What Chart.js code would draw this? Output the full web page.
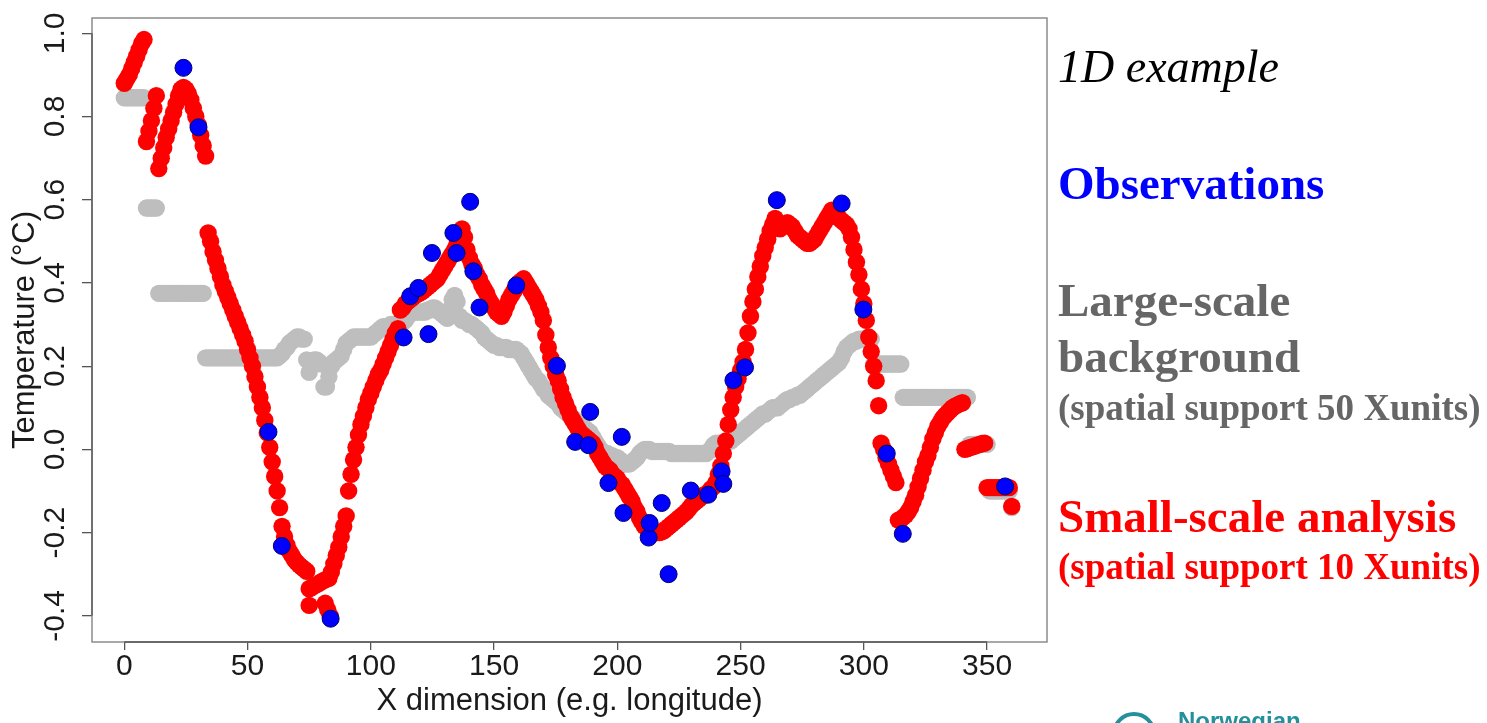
<!DOCTYPE html>
<html>
<head>
<meta charset="utf-8">
<title>1D example</title>
<script src="https://cdn.jsdelivr.net/npm/chart.js@4.4.0/dist/chart.umd.min.js"></script>
<style>
  html, body { margin: 0; padding: 0; background: #fff; overflow: hidden; }
  #wrap { position: absolute; left: 0; top: 0; width: 1487px; height: 723px; }
  .note {
    position: absolute; left: 1058px; line-height: 1; white-space: nowrap;
    font-family: "Liberation Serif", "Times New Roman", serif; font-weight: bold;
  }
  .logo-ring {
    position: absolute; left: 1112px; top: 712px; width: 36px; height: 36px;
    border: 4px solid #23909e; border-radius: 50%;
  }
  .logo-text {
    position: absolute; left: 1178px; top: 709px; line-height: 1; color: #23909e;
    font-family: "Liberation Sans", Arial, sans-serif; font-weight: bold; font-size: 24px;
  }
</style>
</head>
<body>
<div id="wrap"><canvas id="chart"></canvas></div>

<div class="note" style="top:44px;font-size:46px;font-style:italic;font-weight:normal;color:#000;">1D example</div>
<div class="note" style="top:160px;font-size:47px;color:#0000ff;">Observations</div>
<div class="note" style="top:277px;font-size:47px;color:#666666;">Large-scale</div>
<div class="note" style="top:333px;font-size:47px;color:#666666;">background</div>
<div class="note" style="top:389px;font-size:37px;color:#666666;">(spatial support 50 Xunits)</div>
<div class="note" style="top:493px;font-size:47px;color:#ff0000;">Small-scale analysis</div>
<div class="note" style="top:548px;font-size:37px;color:#ff0000;">(spatial support 10 Xunits)</div>

<div class="logo-ring"></div>
<div class="logo-text">Norwegian</div>

<script>
// axis ticks
const xTicks = [0, 50, 100, 150, 200, 250, 300, 350];
const yTicks = [-0.4, -0.2, 0.0, 0.2, 0.4, 0.6, 0.8, 1.0];

// observations (blue)
const obsX = [24, 30.1, 58.5, 63.9, 83.7, 113.3, 116, 119.3, 123.4, 124.8, 133.5, 134.8, 140.3, 141.6,
  144.1, 159, 175.5, 182.9, 188.3, 189, 196.4, 201.8, 202.5, 212.7, 213.1, 218, 220.8, 229.8, 236.9,
  242.3, 243, 247.1, 251.8, 264.7, 291, 299.8, 309.3, 315.8, 357.3];
const obsY = [0.917, 0.774, 0.042, -0.232, -0.407, 0.269, 0.368, 0.388, 0.277, 0.472, 0.52, 0.472, 0.595, 0.428,
  0.341, 0.394, 0.201, 0.018, 0.010, 0.09, -0.081, 0.03, -0.153, -0.212, -0.177, -0.129, -0.30, -0.099, -0.109,
  -0.053, -0.083, 0.166, 0.197, 0.599, 0.591, 0.336, -0.01, -0.203, -0.089];

// small-scale analysis (red), one value per x = 0..360
const analysisY = [
  0.88, 0.89, 0.90, 0.915, 0.93, 0.945, 0.96, 0.975, 0.985,                       // 0-8
  0.74, 0.765, 0.79, 0.82, 0.85,                                                  // 9-13
  0.675, 0.70, 0.725, 0.75, 0.77, 0.79, 0.81, 0.83, 0.85, 0.865,
  0.87, 0.865, 0.855, 0.84, 0.82, 0.80, 0.78, 0.755, 0.73, 0.705,                 // 14-33
  0.52, 0.50, 0.475, 0.455, 0.435, 0.415, 0.395, 0.38, 0.365, 0.35,
  0.335, 0.32, 0.305, 0.29, 0.275, 0.26, 0.24, 0.22, 0.20, 0.175,
  0.15, 0.125, 0.10, 0.07, 0.04, 0.005, -0.03, -0.065, -0.10, -0.14,              // 34-63
  -0.185, -0.21, -0.23, -0.245, -0.255, -0.265, -0.272, -0.278, -0.283, -0.288, -0.293, // 64-74
  -0.335, -0.332, -0.328, -0.325, -0.322, -0.318, -0.315, -0.312, -0.31,          // 75-83
  -0.295, -0.275, -0.255, -0.235, -0.21, -0.185, -0.16,                           // 84-90
  -0.10, -0.06, -0.025, 0.005, 0.035, 0.06, 0.08, 0.10, 0.12, 0.135,
  0.15, 0.165, 0.18, 0.19, 0.205, 0.22, 0.235, 0.25, 0.265, 0.28, 0.29,           // 91-111
  0.335, 0.34, 0.35, 0.355, 0.36, 0.365, 0.37, 0.373, 0.376, 0.38,
  0.385, 0.39, 0.395, 0.40, 0.405, 0.41, 0.42, 0.43, 0.44, 0.45,
  0.46, 0.47, 0.48, 0.495, 0.52, 0.53, 0.51,                                      // 112-138
  0.48, 0.46, 0.445, 0.435, 0.42, 0.41, 0.395, 0.385, 0.375, 0.36,
  0.35, 0.34, 0.33, 0.325, 0.32, 0.33, 0.345, 0.36, 0.37, 0.38,
  0.39, 0.40, 0.405, 0.41, 0.40, 0.39, 0.38, 0.37, 0.36, 0.345, 0.33,             // 139-169
  0.31, 0.275, 0.245, 0.22, 0.20, 0.18, 0.165, 0.145, 0.125, 0.11,
  0.095, 0.08, 0.07, 0.06, 0.05, 0.04, 0.035, 0.03, 0.025, 0.02,
  0.015, 0.005, -0.01, -0.02, -0.03, -0.04, -0.045, -0.05, -0.06, -0.065,         // 170-199
  -0.07, -0.08, -0.085, -0.095, -0.105, -0.115, -0.125, -0.14, -0.15, -0.165,
  -0.175, -0.185, -0.19, -0.195, -0.198, -0.2, -0.2, -0.2, -0.198, -0.195,
  -0.19, -0.185, -0.18, -0.175, -0.17, -0.165, -0.16, -0.155, -0.15, -0.143,      // 200-229
  -0.135, -0.13, -0.125, -0.12, -0.115, -0.11, -0.107, -0.103,                    // 230-237
  -0.095, -0.09, -0.08, -0.06, -0.04, -0.01, 0.02, 0.06, 0.095, 0.125,
  0.15, 0.17, 0.19, 0.21, 0.24, 0.28, 0.32, 0.355, 0.385, 0.415,
  0.44, 0.465, 0.485, 0.505, 0.525,                                               // 238-262
  0.54, 0.555, 0.545, 0.53, 0.535, 0.54, 0.545, 0.54, 0.535, 0.525,
  0.515, 0.51, 0.505, 0.50, 0.495, 0.495, 0.50, 0.505, 0.515, 0.525,
  0.535, 0.545, 0.555, 0.565, 0.575, 0.57, 0.56, 0.555, 0.55, 0.545,
  0.54, 0.53, 0.51, 0.48, 0.45, 0.42, 0.385, 0.35, 0.31, 0.27,
  0.235, 0.20, 0.165, 0.105,                                                      // 263-306
  0.015, 0.0, -0.02, -0.035, -0.05, -0.065, -0.08,                                // 307-313
  -0.17, -0.168, -0.163, -0.158, -0.15, -0.14, -0.125, -0.11, -0.09, -0.07,
  -0.05, -0.03, -0.015, 0.005, 0.025, 0.04, 0.055, 0.065, 0.075, 0.082,
  0.088, 0.094, 0.1, 0.104, 0.107, 0.11, 0.112,                                   // 314-340
  0.0, 0.002, 0.004, 0.006, 0.008, 0.01, 0.012, 0.014, 0.015,                     // 341-349
  -0.092, -0.092, -0.092, -0.092, -0.092, -0.092, -0.092, -0.092, -0.092, -0.092, // 350-359
  -0.137                                                                          // 360
];
// a few analysis points that sit below the main track near the minimum
const analysisExtraX = [75, 81.5, 82.5, 83.5];
const analysisExtraY = [-0.375, -0.37, -0.385, -0.40];

// large-scale background (grey), one value per x = 0..360
const backgroundY = [
  0.845, 0.845, 0.845, 0.845, 0.845, 0.845, 0.845, 0.845, 0.845,                  // 0-8
  0.58, 0.58, 0.58, 0.58, 0.58,                                                   // 9-13
  0.375, 0.375, 0.375, 0.375, 0.375, 0.375, 0.375, 0.375, 0.375, 0.375,
  0.375, 0.375, 0.375, 0.375, 0.375, 0.375, 0.375, 0.375, 0.375,                  // 14-32
  0.22, 0.22, 0.22, 0.22, 0.22, 0.22, 0.22, 0.22, 0.22, 0.22,
  0.22, 0.22, 0.22, 0.22, 0.22, 0.22, 0.22, 0.22, 0.22, 0.22,
  0.22, 0.22, 0.22, 0.22, 0.22, 0.22, 0.22, 0.22, 0.22, 0.22,                     // 33-62
  0.225, 0.23, 0.24, 0.245, 0.255, 0.26, 0.265, 0.27, 0.27, 0.265, 0.265,         // 63-73
  0.215, 0.185, 0.205, 0.215, 0.215, 0.21, 0.205, 0.15, 0.15, 0.175,
  0.2, 0.21, 0.215, 0.22, 0.225,                                                  // 74-88
  0.24, 0.255, 0.26, 0.265, 0.27, 0.27, 0.27, 0.27, 0.27, 0.27,
  0.27, 0.27, 0.275, 0.28, 0.285,                                                 // 89-103
  0.29, 0.295, 0.295, 0.295, 0.3, 0.3, 0.3, 0.3, 0.3, 0.305, 0.31,                // 104-114
  0.32, 0.325, 0.33, 0.33, 0.33, 0.33, 0.33, 0.33, 0.335, 0.335,
  0.34, 0.34, 0.335, 0.33, 0.325, 0.32, 0.315,                                    // 115-131
  0.335, 0.36, 0.37, 0.355, 0.32,                                                 // 132-136
  0.31, 0.31, 0.305, 0.3, 0.3, 0.295, 0.29, 0.285, 0.28, 0.27,
  0.265, 0.26, 0.255,                                                             // 137-149
  0.25, 0.25, 0.245, 0.245, 0.245, 0.245, 0.24, 0.24, 0.24, 0.24,
  0.235, 0.23, 0.22, 0.21,                                                        // 150-163
  0.2, 0.19, 0.18, 0.17, 0.165, 0.155, 0.145, 0.14, 0.13, 0.125,
  0.12, 0.115, 0.11, 0.1, 0.095, 0.09, 0.085,                                     // 164-180
  0.08, 0.075, 0.07, 0.065, 0.06, 0.055, 0.05, 0.045, 0.04, 0.03,
  0.02, 0.01, 0.0,                                                                // 181-193
  -0.005, -0.01, -0.01, -0.015, -0.015, -0.02, -0.02, -0.025, -0.03, -0.035,
  -0.035, -0.035, -0.03, -0.025, -0.02, -0.01, -0.005, 0.0,                       // 194-211
  0.0, 0.0, -0.005, -0.005, -0.005, -0.005, -0.005, -0.005, -0.005, -0.005,
  -0.01, -0.01, -0.01, -0.01, -0.01, -0.01, -0.01, -0.01, -0.01, -0.01,
  -0.01, -0.01, -0.01, -0.01, -0.01, -0.005, 0.0,                                 // 212-238
  0.01, 0.015, 0.015, 0.015, 0.015, 0.015, 0.02, 0.02, 0.025, 0.03,
  0.035, 0.04, 0.045,                                                             // 239-251
  0.05, 0.055, 0.06, 0.065, 0.07, 0.075, 0.08, 0.085, 0.085, 0.09,
  0.095, 0.1, 0.1, 0.1, 0.105,                                                    // 252-266
  0.11, 0.115, 0.12, 0.12, 0.125, 0.125, 0.13, 0.13, 0.135, 0.14,
  0.145, 0.15, 0.155, 0.16,                                                       // 267-280
  0.165, 0.17, 0.175, 0.18, 0.185, 0.19, 0.195, 0.2, 0.205, 0.21, 0.22,           // 281-291
  0.235, 0.245, 0.25, 0.255, 0.26, 0.26, 0.265, 0.265, 0.265, 0.265, 0.265, 0.265, // 292-303
  0.205, 0.205, 0.205, 0.205, 0.205, 0.205, 0.205, 0.205, 0.205, 0.205, 0.205, 0.205, // 304-315
  0.125, 0.125, 0.125, 0.125, 0.125, 0.125, 0.125, 0.125, 0.125, 0.125,
  0.125, 0.125, 0.125, 0.125, 0.125, 0.125, 0.125, 0.125, 0.125, 0.125,
  0.125, 0.125, 0.125, 0.125, 0.125, 0.125, 0.125,                                // 316-342
  0.012, 0.012, 0.012, 0.012, 0.012, 0.012, 0.012, 0.012,                         // 343-350
  -0.1, -0.1, -0.1, -0.1, -0.1, -0.1, -0.1, -0.1, -0.1,                           // 351-359
  -0.14                                                                           // 360
];

const obsPoints = obsX.map((x, i) => ({ x: x, y: obsY[i] }));
const analysisPoints = analysisY.map((y, i) => ({ x: i, y: y }))
  .concat(analysisExtraX.map((x, i) => ({ x: x, y: analysisExtraY[i] })));
const backgroundPoints = backgroundY.map((y, i) => ({ x: i, y: y }));

// plot frame plus R-style axis lines that run from first to last tick
const framePlugin = {
  id: 'frame',
  afterDraw(chart) {
    const { ctx, chartArea: a, scales: { x, y } } = chart;
    ctx.save();
    ctx.strokeStyle = '#8c8c8c';
    ctx.lineWidth = 1.5;
    ctx.strokeRect(a.left, a.top, a.right - a.left, a.bottom - a.top);
    ctx.strokeStyle = '#555';
    ctx.lineWidth = 1.3;
    ctx.beginPath();
    ctx.moveTo(x.getPixelForValue(xTicks[0]), a.bottom);
    ctx.lineTo(x.getPixelForValue(xTicks[xTicks.length - 1]), a.bottom);
    ctx.moveTo(a.left, y.getPixelForValue(yTicks[0]));
    ctx.lineTo(a.left, y.getPixelForValue(yTicks[yTicks.length - 1]));
    ctx.stroke();
    ctx.restore();
  }
};

const axisFont = { family: 'Liberation Sans', size: 30 };
const titleFont = { family: 'Liberation Sans', size: 31 };

new Chart(document.getElementById('chart'), {
  type: 'scatter',
  data: {
    datasets: [
      { label: 'Observations', data: obsPoints, order: 0,
        backgroundColor: '#0000ff', borderColor: '#00006e', borderWidth: 1, pointRadius: 8.5 },
      { label: 'Small-scale analysis', data: analysisPoints, order: 1,
        backgroundColor: '#ff0000', borderWidth: 0, pointRadius: 8.7 },
      { label: 'Large-scale background', data: backgroundPoints, order: 2,
        backgroundColor: '#bebebe', borderWidth: 0, pointRadius: 8.7 }
    ]
  },
  options: {
    responsive: true,
    maintainAspectRatio: false,
    animation: false,
    devicePixelRatio: 1,
    events: [],
    layout: { padding: { left: 0, top: 13, right: 440, bottom: 0 } },
    plugins: { legend: { display: false }, tooltip: { enabled: false } },
    scales: {
      x: {
        type: 'linear', min: -13.1, max: 374.3,
        afterBuildTicks: s => { s.ticks = xTicks.map(v => ({ value: v })); },
        afterFit: s => { s.height = 81; },
        border: { display: false },
        grid: { drawOnChartArea: false, tickLength: 8, color: '#555', lineWidth: 1.3 },
        ticks: { padding: -1, color: '#1a1a1a', font: axisFont, maxRotation: 0, autoSkip: false },
        title: { display: true, text: 'X dimension (e.g. longitude)', color: '#1a1a1a',
                 font: titleFont, padding: { top: 0, bottom: 3 } }
      },
      y: {
        type: 'linear', min: -0.463, max: 1.0368,
        afterBuildTicks: s => { s.ticks = yTicks.map(v => ({ value: v })); },
        afterFit: s => { s.width = 92; },
        border: { display: false },
        grid: { drawOnChartArea: false, tickLength: 10, color: '#555', lineWidth: 1.3 },
        ticks: { padding: 0, color: '#1a1a1a', font: axisFont, minRotation: 90, maxRotation: 90,
                 crossAlign: 'center', autoSkip: false, callback: v => v.toFixed(1) },
        title: { display: true, text: 'Temperature (°C)', color: '#1a1a1a',
                 font: titleFont, padding: { top: 7, bottom: 0 } }
      }
    }
  },
  plugins: [framePlugin]
});
</script>
</body>
</html>
